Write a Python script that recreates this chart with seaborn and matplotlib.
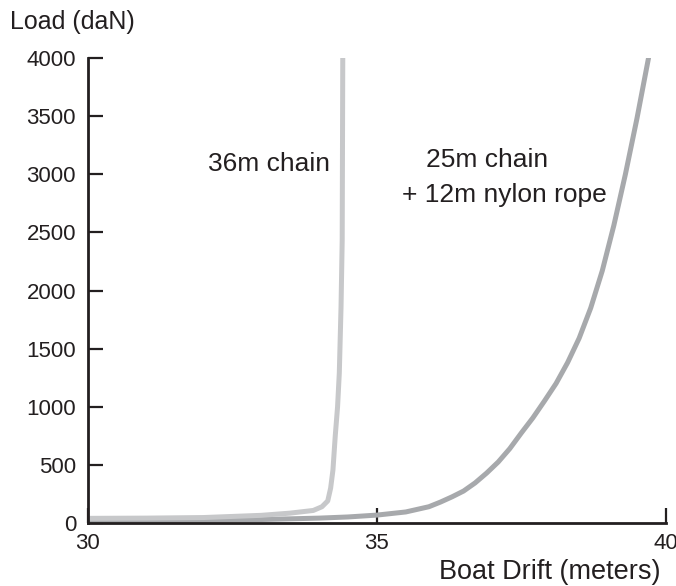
import numpy as np
import pandas as pd
import seaborn as sns
import matplotlib.pyplot as plt

# values
chain_x = [30, 31, 32, 33, 33.5, 33.9, 34.05, 34.15, 34.2, 34.24, 34.28, 34.32, 34.35, 34.38, 34.40, 34.41]
chain_load = [40, 42, 47, 66, 85, 108, 140, 190, 300, 456, 750, 1000, 1290, 1860, 2430, 4000]

rope_x = [30, 31, 32, 33, 34, 34.5, 35, 35.5, 35.9, 36.1, 36.3, 36.5, 36.7, 36.9, 37.1, 37.3,
          37.5, 37.7, 37.9, 38.1, 38.3, 38.5, 38.7, 38.9, 39.1, 39.3, 39.5, 39.7]
rope_load = [18, 20, 24, 30, 42, 52, 68, 95, 140, 180, 225, 275, 345, 430, 525, 640,
             775, 905, 1050, 1200, 1380, 1590, 1850, 2170, 2560, 3000, 3480, 4000]

x_ticks = [30, 35, 40]
y_ticks = [0, 500, 1000, 1500, 2000, 2500, 3000, 3500, 4000]

sns.set_style("white")
plt.rcParams['font.family'] = ['Liberation Sans', 'DejaVu Sans']
ink = '#231f20'

df_chain = pd.DataFrame({'drift': chain_x, 'load': chain_load})
df_rope = pd.DataFrame({'drift': rope_x, 'load': rope_load})

fig = plt.figure(figsize=(6.76, 5.86), dpi=100)
ax = fig.add_axes([0.130, 0.1075, 0.855, 0.7935])

sns.lineplot(data=df_rope, x='drift', y='load', ax=ax, color='#a7a9ac', lw=3.6,
             sort=False, estimator=None)
sns.lineplot(data=df_chain, x='drift', y='load', ax=ax, color='#c7c8ca', lw=3.6,
             sort=False, estimator=None)

ax.set_xlim(30, 40)
ax.set_ylim(0, 4000)
ax.set_xticks(x_ticks)
ax.set_yticks(y_ticks)
ax.set_xticklabels([str(t) for t in x_ticks])
ax.set_yticklabels([str(t) for t in y_ticks])

for side in ['top', 'right']:
    ax.spines[side].set_visible(False)
for side in ['left', 'bottom']:
    ax.spines[side].set_color(ink)
    ax.spines[side].set_linewidth(2.0)

ax.tick_params(axis='both', direction='in', length=10.5, width=1.6, color=ink,
               labelsize=16, labelcolor=ink, bottom=True, left=True)
ax.tick_params(axis='y', pad=8.5)
ax.tick_params(axis='x', pad=7)

ax.set_ylabel('Load (daN)', rotation=0, fontsize=18, color=ink, ha='left', va='center')
ax.yaxis.set_label_coords(-0.135, 1.077)
ax.set_xlabel('Boat Drift (meters)', fontsize=19.5, color=ink, ha='right', va='center')
ax.xaxis.set_label_coords(0.99, -0.105)

ax.text(33.13, 3031, '36m chain', fontsize=19, color=ink, ha='center', va='baseline')
ax.text(36.90, 3065, '25m chain', fontsize=19, color=ink, ha='center', va='baseline')
ax.text(37.21, 2764, '+ 12m nylon rope', fontsize=19, color=ink, ha='center', va='baseline')

fig.savefig('out.png', dpi=100)
